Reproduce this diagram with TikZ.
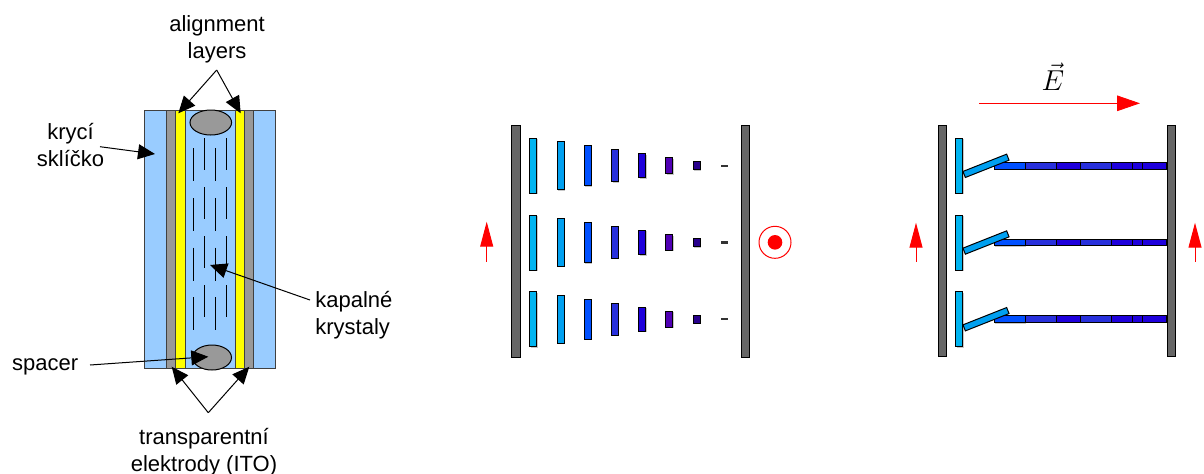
\documentclass[tikz,border=0pt]{standalone}
\usepackage{fontspec}
\setmainfont{Liberation Sans}
\usetikzlibrary{arrows.meta}

\definecolor{glass}{HTML}{99CCFF}
\definecolor{ito}{HTML}{999999}
\definecolor{align}{HTML}{FFFF00}
\definecolor{platec}{HTML}{666666}
\definecolor{r1}{HTML}{00B4F0}
\definecolor{r2}{HTML}{00A0F0}
\definecolor{r3}{HTML}{0050FF}
\definecolor{r4}{HTML}{2830DC}
\definecolor{r5}{HTML}{1E00DC}
\definecolor{r6}{HTML}{5000B4}
\definecolor{r7}{HTML}{28008C}
\definecolor{r8}{HTML}{333333}
\definecolor{field}{HTML}{FF0000}

\begin{document}
\begin{tikzpicture}[x=0.5pt,y=-0.5pt,
  layer/.style={draw=black!75,line width=0.5pt},
  lbl/.style={inner sep=0pt,font=\fontsize{11}{13.5}\selectfont},
  pointer/.style={line width=0.5pt,-{Triangle[length=8.5pt,width=7.5pt]}},
  fieldarrow/.style={field,line width=0.5pt,-{Triangle[length=12.5pt,width=6.5pt]}},
  rod/.style={draw=black,line width=0.5pt},
  rodshadow/.style={fill=black!22},
  plate/.style={draw=black,fill=platec,line width=0.5pt}]
\useasboundingbox (0,0) rectangle (1204,473);

% ---------- cell cross-section ----------
\draw[layer,fill=glass] (144,110.7) rectangle (166,368.3);
\draw[layer,fill=ito] (166,110.7) rectangle (175.7,368.3);
\draw[layer,fill=align] (175.7,110.7) rectangle (185.3,368.3);
\draw[layer,fill=glass] (185.3,110.7) rectangle (235.3,368.3);
\draw[layer,fill=align] (235.3,110.7) rectangle (244.3,368.3);
\draw[layer,fill=ito] (244.3,110.7) rectangle (253.3,368.3);
\draw[layer,fill=glass] (253.3,110.7) rectangle (275.7,368.3);

% spacers
\draw[layer,draw=black,fill=ito] (210.8,122.5) ellipse [x radius=20.8,y radius=12.5];
\draw[layer,draw=black,fill=ito] (212,357.5) ellipse [x radius=19.5,y radius=12.5];

% liquid crystal molecules
\foreach \x in {193.3,215.3}
  \foreach \y in {148,198,247.5,297}
    \draw[line width=0.7pt] (\x,\y) -- (\x,\y+33);
\foreach \x in {204.3,226.5}
  \foreach \y in {138,187,236,285}
    \draw[line width=0.7pt] (\x,\y) -- (\x,\y+32);

% labels
\node[lbl,align=center] (al) at (217,39) {alignment\\layers};
\node[lbl,align=center] (kr) at (70.5,145) {krycí\\sklíčko};
\node[lbl,anchor=base west] (sp) at (11.7,370) {spacer};
\node[lbl,align=left,anchor=west] (kk) at (315,315) {kapalné\\krystaly};
\node[lbl,align=center] (ito) at (204,452) {transparentní\\elektrody (ITO)};

% pointer ends
\coordinate (a0) at (216.7,70);
\coordinate (a1) at (178.3,113.3);
\coordinate (a2) at (240.7,113.3);
\coordinate (k0) at (100,146.7);
\coordinate (k1) at (155,154);
\coordinate (p0) at (310,300);
\coordinate (p1) at (210,265);
\coordinate (s0) at (90,365);
\coordinate (s1) at (208.3,356.7);
\coordinate (t0) at (208.3,412.7);
\coordinate (t1) at (171.7,366.7);
\coordinate (t2) at (249.3,366.7);

\draw[pointer] (a0) -- (a1);
\draw[pointer] (a0) -- (a2);
\draw[pointer] (k0) -- (k1);
\draw[pointer] (p0) -- (p1);
\draw[pointer] (s0) -- (s1);
\draw[pointer] (t0) -- (t1);
\draw[pointer] (t0) -- (t2);

% ---------- twisted cell, field off ----------
\draw[plate] (511.7,125) rectangle (520.7,357.3);
\draw[plate] (741,125) rectangle (749.3,357.3);
\foreach \ry in {165.8,242.5,319.2} {
  \foreach \cx/\h/\c in {533.3/55/r1,560.7/47.7/r2,587.7/40/r3,615/31.7/r4,
                         642.3/24.3/r5,669.3/15.7/r6,696.7/8.3/r7} {
    \fill[rodshadow] (\cx-3.35+1,\ry-\h/2+1) rectangle (\cx+3.35+1,\ry+\h/2+1);
    \draw[rod,fill=\c] (\cx-3.35,\ry-\h/2) rectangle (\cx+3.35,\ry+\h/2);
  }
  \fill[r8] (720.7,\ry-1.2) rectangle (728.3,\ry+1.2);
}
\coordinate (pl0) at (486.7,261.7);
\coordinate (pl1) at (486.7,221.7);
\draw[fieldarrow] (pl0) -- (pl1);
\draw[field,line width=0.5pt] (775,242.3) circle [radius=16];
\fill[field] (775,242.3) circle [radius=7.3];

% ---------- cell with applied field ----------
\draw[plate] (938.3,125.7) rectangle (946,356.7);
\draw[plate] (1167.3,125.7) rectangle (1175,356.7);
\foreach \ry in {165.8,242.5,319.2} {
  \fill[rodshadow] (956.7,\ry-27.5+1) rectangle (963.7,\ry+27.5+1);
  \draw[rod,fill=r1] (955.7,\ry-27.5) rectangle (962.7,\ry+27.5);
  \fill[rodshadow] (995.3,\ry-3.3+1) rectangle (1026,\ry+3.3+1);
  \foreach \xa/\xb/\c in {994.3/1025/r3,1025/1056/r4,1056/1080/r5,1080/1111/r4,
                          1111/1132.3/r5,1132.3/1142.7/r5,1142.7/1166.7/r5}
    \draw[rod,fill=\c] (\xa,\ry-3.3) rectangle (\xb,\ry+3.3);
  \draw[rod,fill=r2,rotate around={21.6:(986,\ry)}]
    (962.5,\ry-3.25) rectangle (1009.5,\ry+3.25);
}
\node[inner sep=0pt,anchor=base,font=\fontsize{14.5}{17}\selectfont] (E) at (1053,90.7) {$\vec{E}$};
\coordinate (e0) at (979.3,103.3);
\coordinate (e1) at (1140,103.3);
\draw[field,line width=0.5pt,-{Triangle[length=11.5pt,width=7.8pt]}] (e0) -- (e1);
\coordinate (ql0) at (916,261.7);
\coordinate (ql1) at (916,222.7);
\coordinate (qr0) at (1195,261.7);
\coordinate (qr1) at (1195,222.7);
\draw[fieldarrow] (ql0) -- (ql1);
\draw[fieldarrow] (qr0) -- (qr1);
\end{tikzpicture}
\end{document}
